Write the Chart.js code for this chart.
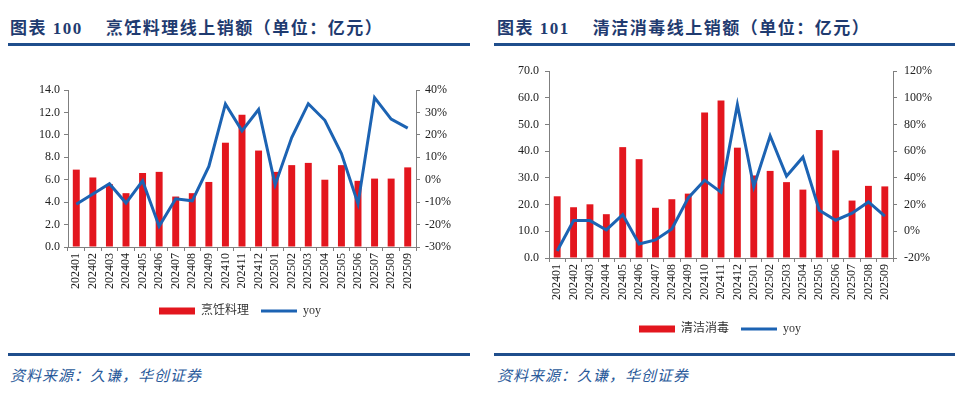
<!DOCTYPE html>
<html>
<head>
<meta charset="utf-8">
<script src="https://cdn.jsdelivr.net/npm/chart.js@4.4.1/dist/chart.umd.min.js"></script>
<style>
  body { margin: 0; width: 960px; height: 395px; background: #fff; position: relative; overflow: hidden; }
  .title { position: absolute; top: 14px; font-family: 'Liberation Serif', 'Noto Sans CJK SC'; font-weight: bold; font-size: 17px; letter-spacing: 1.5px; color: #1f3b70; white-space: nowrap; }
  .rule { position: absolute; height: 3px; background: #1f4e8c; }
  .source { position: absolute; top: 364px; font-family: 'Noto Sans CJK SC'; font-style: italic; font-size: 15px; letter-spacing: 1px; color: #2a5a9a; }
  .box { position: absolute; top: 50px; width: 480px; height: 300px; }
</style>
</head>
<body>
<div class="title" style="left:10px">图表 100&nbsp;&nbsp;&nbsp; 烹饪料理线上销额（单位：亿元）</div>
<div class="rule" style="left:8px; width:462px; top:43px"></div>
<div class="title" style="left:497px">图表 101&nbsp;&nbsp;&nbsp; 清洁消毒线上销额（单位：亿元）</div>
<div class="rule" style="left:494px; width:461px; top:43px"></div>

<div class="box" style="left:0"><canvas id="chart1"></canvas></div>
<div class="box" style="left:480px"><canvas id="chart2"></canvas></div>

<div class="rule" style="left:8px; width:462px; top:353px"></div>
<div class="rule" style="left:494px; width:461px; top:353px"></div>
<div class="source" style="left:10px">资料来源：久谦，华创证券</div>
<div class="source" style="left:497px">资料来源：久谦，华创证券</div>

<script>
const months = ['202401', '202402', '202403', '202404', '202405', '202406', '202407', '202408', '202409', '202410', '202411', '202412',
                '202501', '202502', '202503', '202504', '202505', '202506', '202507', '202508', '202509'];

// 烹饪料理 (亿元) and yoy (%)
const cookingSales = [6.9, 6.2, 5.6, 4.8, 6.6, 6.7, 4.5, 4.8, 5.8, 9.3, 11.8, 8.6, 6.7, 7.3, 7.5, 6.0, 7.3, 5.9, 6.1, 6.1, 7.1];
const cookingYoy = [-10.9, -6.4, -1.8, -10.4, -0.5, -20.8, -8.5, -9.4, 5.9, 33.8, 21.8, 31.3, -2.3, 18.8, 33.9, 26.5, 11.7, -10.7, 36.6, 27.0, 23.0];

// 清洁消毒 (亿元) and yoy (%)
const cleaningSales = [23.1, 19.0, 20.1, 16.4, 41.5, 37.0, 18.8, 22.0, 24.1, 54.5, 59.0, 41.3, 30.9, 32.6, 28.4, 25.6, 47.9, 40.3, 21.5, 27.0, 26.8];
const cleaningYoy = [-14.8, 8.0, 8.0, 1.0, 12.5, -9.5, -6.5, 1.8, 25.0, 38.3, 29.3, 94.8, 33.3, 71.5, 41.3, 55.5, 15.8, 8.3, 13.5, 22.0, 11.3];

// axis ranges [min, max, step]
const cookingAxis = [0, 14, 2];
const cookingYoyAxis = [-30, 40, 10];
const cleaningAxis = [0, 70, 10];
const cleaningYoyAxis = [-20, 120, 20];

const RED = '#e3161e';
const BLUE = '#1c63b3';
const AXIS = '#7f7f7f';
const TICK_FONT = { family: "'Liberation Serif', 'Noto Sans CJK SC'", size: 12 };

function fixSize(prop, size) {
    return function (scale) { scale[prop] = size; };
}

function makeChart(id, barName, bars, yoy, axis, yoyAxis, lay) {
    let ctx = document.getElementById(id).getContext('2d');
    return new Chart(ctx, {
        type: 'bar',
        data: {
            labels: months,
            datasets: [{
                label: barName,
                data: bars,
                backgroundColor: RED,
                borderWidth: 0,
                barPercentage: 0.42,
                categoryPercentage: 1,
                pointStyle: 'rect',
                yAxisID: 'y',
                order: 2
            }, {
                type: 'line',
                label: 'yoy',
                data: yoy,
                borderColor: BLUE,
                backgroundColor: BLUE,
                borderWidth: 3,
                pointRadius: 0,
                tension: 0,
                pointStyle: 'line',
                yAxisID: 'y1',
                order: 1
            }]
        },
        options: {
            responsive: true,
            maintainAspectRatio: false,
            animation: false,
            layout: { padding: { top: lay.top, bottom: lay.bottom, left: 0, right: 0 } },
            plugins: {
                legend: {
                    position: 'bottom',
                    labels: {
                        usePointStyle: true,
                        pointStyleWidth: 36,
                        boxHeight: 7,
                        padding: 12,
                        color: '#333',
                        font: TICK_FONT,
                        sort: (a, b) => a.datasetIndex - b.datasetIndex
                    }
                },
                tooltip: { enabled: false }
            },
            scales: {
                x: {
                    afterFit: fixSize('height', lay.xh),
                    grid: { drawOnChartArea: false, tickLength: 4, color: AXIS, offset: true },
                    border: { color: AXIS },
                    ticks: { minRotation: 90, maxRotation: 90, autoSkip: false, padding: 2, color: '#222', font: TICK_FONT }
                },
                y: {
                    position: 'left',
                    min: axis[0], max: axis[1],
                    afterFit: fixSize('width', lay.yw),
                    grid: { drawOnChartArea: false, tickLength: 4, color: AXIS },
                    border: { color: AXIS },
                    ticks: { stepSize: axis[2], padding: lay.ypad, color: '#222', font: TICK_FONT,
                             callback: v => v.toFixed(1) }
                },
                y1: {
                    position: 'right',
                    min: yoyAxis[0], max: yoyAxis[1],
                    afterFit: fixSize('width', lay.y1w),
                    grid: { drawOnChartArea: false, tickLength: 4, color: AXIS },
                    border: { color: AXIS },
                    ticks: { stepSize: yoyAxis[2], padding: lay.y1pad, color: '#222', font: TICK_FONT,
                             callback: v => v + '%' }
                }
            }
        }
    });
}

makeChart('chart1', '烹饪料理', cookingSales, cookingYoy, cookingAxis, cookingYoyAxis,
    { top: 40, bottom: 23, xh: 46, yw: 68, y1w: 64, ypad: 4, y1pad: 5 });
makeChart('chart2', '清洁消毒', cleaningSales, cleaningYoy, cleaningAxis, cleaningYoyAxis,
    { top: 21, bottom: 5, xh: 53, yw: 69, y1w: 67, ypad: 6, y1pad: 7 });
</script>
</body>
</html>
